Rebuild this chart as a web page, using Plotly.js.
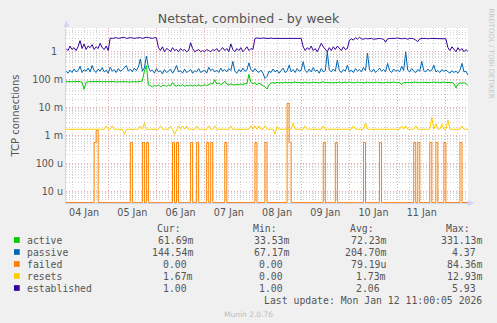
<!DOCTYPE html>
<html><head><meta charset="utf-8">
<script src="https://cdn.plot.ly/plotly-3.0.1.min.js"></script>
<style>html,body{margin:0;padding:0;background:#F0F0F0;}#chart{width:497px;height:323px;}</style>
</head><body><div id="chart"></div>
<script>
// time base: hourly samples
const START = '2026-01-04 03:00';
const END = '2026-01-12 11:00';
const STEP_MS = 3600000;

const active = [
0.085,0.083,0.086,0.084,0.085,0.083,0.086,0.085,0.08,0.045,
0.08,0.084,0.085,0.083,0.086,0.084,0.085,0.086,0.084,0.085,
0.083,0.085,0.086,0.084,0.085,0.083,0.084,0.085,0.083,0.084,
0.085,0.082,0.084,0.083,0.085,0.084,0.083,0.086,0.09,0.2,
0.32,0.065,0.06,0.055,0.062,0.058,0.065,0.056,0.06,0.063,
0.057,0.065,0.06,0.078,0.062,0.058,0.064,0.06,0.066,0.058,
0.062,0.06,0.064,0.058,0.063,0.06,0.065,0.059,0.062,0.066,
0.061,0.068,0.072,0.07,0.1,0.07,0.075,0.068,0.072,0.088,
0.07,0.065,0.07,0.066,0.064,0.068,0.066,0.07,0.066,0.072,
0.07,0.155,0.08,0.07,0.078,0.065,0.075,0.068,0.062,0.055,
0.046,0.065,0.075,0.078,0.074,0.08,0.076,0.079,0.075,0.082,
0.077,0.08,0.076,0.079,0.083,0.077,0.08,0.075,0.078,0.081,
0.076,0.079,0.077,0.082,0.078,0.08,0.076,0.079,0.084,0.078,
0.08,0.077,0.079,0.076,0.08,0.078,0.082,0.077,0.079,0.081,
0.078,0.083,0.08,0.077,0.079,0.082,0.078,0.08,0.076,0.079,
0.081,0.078,0.08,0.077,0.082,0.079,0.08,0.078,0.076,0.079,
0.081,0.078,0.08,0.082,0.079,0.077,0.08,0.066,0.078,0.081,
0.079,0.08,0.077,0.082,0.079,0.08,0.078,0.081,0.079,0.082,
0.08,0.078,0.08,0.083,0.079,0.081,0.078,0.08,0.082,0.079,
0.08,0.077,0.079,0.072,0.05,0.068,0.076,0.074,0.078,0.072,
0.062];

const passive = [
0.2,0.17,0.22,0.18,0.24,0.19,0.21,0.3,0.18,0.23,
0.2,0.26,0.19,0.32,0.21,0.18,0.24,0.2,0.27,0.19,
0.22,0.17,0.28,0.2,0.23,0.18,0.25,0.2,0.22,0.27,
0.32,0.2,0.24,0.19,0.26,0.21,0.28,0.55,0.2,0.26,
0.7,0.28,0.2,0.22,0.17,0.25,0.19,0.21,0.16,0.23,
0.18,0.2,0.24,0.17,0.22,0.32,0.19,0.21,0.17,0.24,
0.18,0.2,0.23,0.17,0.21,0.19,0.25,0.18,0.2,0.22,
0.17,0.28,0.21,0.24,0.19,0.22,0.18,0.26,0.2,0.23,
0.19,0.25,0.21,0.45,0.2,0.17,0.23,0.19,0.26,0.2,
0.22,0.4,0.23,0.19,0.25,0.2,0.18,0.22,0.17,0.11,
0.13,0.2,0.18,0.24,0.19,0.22,0.17,0.21,0.26,0.18,
0.2,0.33,0.19,0.23,0.18,0.25,0.2,0.22,0.44,0.21,
0.18,0.24,0.19,0.27,0.2,0.22,0.17,0.25,0.19,0.21,
1.0,0.22,0.19,0.24,0.2,0.5,0.21,0.18,0.23,0.2,
0.33,0.19,0.22,0.18,0.25,0.2,0.23,0.19,0.27,0.21,
0.88,0.22,0.19,0.24,0.18,0.21,0.26,0.2,0.23,0.19,
0.38,0.21,0.18,0.24,0.2,0.22,0.19,0.3,0.21,1.0,
0.22,0.19,0.25,0.2,0.18,0.23,0.2,0.45,0.21,0.19,
0.24,0.2,0.22,0.33,0.19,0.21,0.18,0.23,0.2,0.22,
0.19,0.17,0.21,0.18,0.2,0.17,0.22,0.38,0.19,0.2,
0.145];

const failed = [
0,0,0,0,0,0,0,0,0,0,
0,0,0,0,0.00056,0.0015,0,0,0,0,
0,0,0,0,0,0,0,0,0,0,
0,0,0.00056,0,0,0,0,0,0.00056,0,
0.00056,0,0,0,0,0,0,0,0,0,
0,0,0,0.00056,0,0.00056,0,0,0,0,
0,0,0.00056,0,0,0.00056,0,0,0,0,
0.00056,0,0.00056,0,0,0,0,0,0,0.00056,
0,0,0,0,0,0,0,0,0,0,
0,0,0,0,0.00056,0,0,0,0,0.00056,
0,0,0,0,0,0,0,0,0,0,
0.014,0.00056,0,0,0,0,0,0,0,0,
0,0,0,0,0,0,0,0,0.00056,0,
0,0,0,0,0.00056,0,0,0,0,0,
0,0,0,0,0,0,0,0,0.00056,0,
0,0,0,0,0,0,0.00056,0,0,0,
0,0,0,0,0,0,0,0,0,0,
0,0,0,0.00056,0,0.00056,0,0,0,0,
0,0.00056,0,0,0.00056,0,0,0,0.00056,0,
0,0,0,0,0,0,0.00056,0,0,0,
0];

const resets = [
0.00167,0.00167,0.00167,0.00167,0.00167,0.00167,0.00167,0.00167,0.00167,0.00167,
0.00167,0.00167,0.00167,0.00167,0.00167,0.00167,0.00167,0.00167,0.00167,0.00167,
0.0022,0.00167,0.00167,0.0022,0.00167,0.00167,0.00167,0.00167,0.00167,0.0011,
0.00167,0.00167,0.00167,0.00167,0.00167,0.00167,0.00167,0.0022,0.00167,0.0028,
0.00167,0.00167,0.00167,0.00167,0.00167,0.00167,0.00167,0.0022,0.00167,0.00167,
0.00167,0.00167,0.0022,0.00167,0.0011,0.00167,0.0022,0.00167,0.0022,0.00167,
0.0022,0.00167,0.00167,0.00167,0.00167,0.0022,0.00167,0.00167,0.00167,0.00167,
0.00167,0.0022,0.00167,0.00167,0.0022,0.00167,0.00167,0.00167,0.00167,0.00167,
0.00167,0.00167,0.0022,0.00167,0.00167,0.00167,0.00167,0.00167,0.00167,0.00167,
0.00167,0.00167,0.0022,0.00167,0.0022,0.00167,0.0022,0.00167,0.00167,0.0022,
0.00167,0.00167,0.00167,0.00167,0.0011,0.0021,0.00167,0.00167,0.00167,0.00167,
0.00167,0.00167,0.00167,0.0028,0.00167,0.00167,0.00167,0.00167,0.00167,0.0022,
0.00167,0.00167,0.00167,0.00167,0.00167,0.00167,0.00167,0.00167,0.0022,0.00167,
0.00167,0.00167,0.00167,0.00167,0.00167,0.00167,0.00167,0.00167,0.00167,0.00167,
0.00167,0.00167,0.00167,0.0022,0.00167,0.00167,0.00167,0.00167,0.00167,0.0028,
0.00167,0.00167,0.00167,0.00167,0.00167,0.00167,0.00167,0.00167,0.00167,0.00167,
0.00167,0.00167,0.00167,0.00167,0.00167,0.00167,0.00167,0.0022,0.00167,0.0022,
0.00167,0.00167,0.00167,0.00167,0.0022,0.00167,0.00167,0.00167,0.00167,0.00167,
0.00167,0.00167,0.0045,0.00167,0.0026,0.00167,0.00167,0.0026,0.00167,0.00167,
0.0036,0.00167,0.00167,0.00167,0.00167,0.00167,0.00167,0.0022,0.00167,0.00167,
0.00167];

const established = [
1.3,1.1,1.6,1.2,1.4,1.1,1.5,2.5,1.3,1.9,1.2,1.6,1.4,1.8,1.2,1.5,1.3,2.0,1.4,1.2,1.6,1.1,
3.1,3.0,3.1,3.2,3.0,3.1,3.1,3.3,3.0,3.1,3.2,3.1,3.0,3.1,3.1,3.2,3.0,3.1,3.3,3.2,3.1,3.0,3.2,3.1,
1.4,1.1,1.5,1.0,1.3,1.2,1.0,1.4,1.1,1.2,1.0,1.3,1.1,1.2,1.0,1.1,2.1,1.3,1.0,1.1,1.2,1.0,1.1,1.0,
1.2,1.1,1.0,1.2,1.1,1.3,1.0,1.2,1.4,1.1,1.3,1.0,1.9,1.2,1.0,1.3,1.1,1.4,1.0,1.2,1.5,1.1,1.3,1.2,
3.0,3.1,3.0,3.0,3.1,3.0,3.0,3.0,3.1,3.0,3.0,3.0,3.1,3.0,3.0,3.0,3.0,3.1,3.0,3.0,3.0,3.1,3.0,3.0,
1.5,1.1,1.4,1.2,1.6,1.1,1.3,1.0,1.4,2.0,1.5,1.2,1.0,1.4,1.1,1.5,1.2,1.6,1.3,1.1,1.5,1.2,1.3,
2.6,2.9,2.6,3.2,2.8,3.3,2.9,2.8,3.0,2.9,2.9,3.0,2.8,2.9,2.9,3.0,2.9,2.8,2.2,2.9,3.0,3.0,2.9,3.0,3.1,
3.0,2.9,3.0,3.0,2.8,3.0,3.0,2.9,2.6,2.3,2.9,3.0,3.0,3.0,2.9,3.0,3.0,3.0,3.0,3.0,2.9,3.0,3.0,2.9,
1.4,1.1,1.5,1.2,1.0,1.4,1.1,1.3,1.0,1.2,1.0];

const seriesNames = ['active','passive','failed','resets','established'];
const seriesColors = ['#00CC00','#0066B3','#FF8000','#FFCC00','#330099'];
const legendCur = ['61.69m','144.54m','0.00\u00a0','1.67m','1.00\u00a0'];
const legendMin = ['33.53m','67.17m','0.00\u00a0','0.00\u00a0','1.00\u00a0'];
const legendAvg = ['72.23m','204.70m','79.19u','1.73m','2.06\u00a0'];
const legendMax = ['331.13m','4.37\u00a0','84.36m','12.93m','5.93\u00a0'];
const legendHeaders = ['Cur:','Min:','Avg:','Max:'];
const yTickVals = [1e-5,1e-4,1e-3,1e-2,1e-1,1];
const yTickText = ['10 u','100 u','1 m','10 m','100 m','1\u00a0\u00a0'];
const titleText = 'Netstat, combined - by week';
const yTitle = 'TCP connections';
const lastUpdate = 'Last update: Mon Jan 12 11:00:05 2026';

// layout geometry (pixels)
const W = 497, H = 323, L = 66, R = 468, T = 28, B = 203;
const px = x => (x - L) / (R - L);
const py = y => (B - y) / (B - T);
const YMIN = -5.42, YMAX = 0.85;
const FLOOR = Math.pow(10, YMIN + 0.02);

const data = [active, passive, failed, resets, established].map((vals, k) => ({
  type: 'scatter', mode: 'lines', name: seriesNames[k],
  x0: START, dx: STEP_MS,
  y: k === 2 ? vals.map(v => v > 0 ? v : FLOOR) : vals,
  line: {color: seriesColors[k], width: 1, shape: k === 2 ? 'hv' : 'linear'},
  hoverinfo: 'skip', showlegend: false
}));

const minorY = [];
for (let e = -6; e <= 0; e++) for (let d = 2; d <= 9; d++) minorY.push(d * Math.pow(10, e));

const mono = {family: 'DejaVu Sans Mono', size: 9.8, color: '#555'};
const ann = [];
const shapes = [];
const rowsY = [240, 252, 264, 276, 288];
const colRight = [194, 290, 386.7, 482.7];
const colVals = [legendCur, legendMin, legendAvg, legendMax];
legendHeaders.forEach((h, j) => {
  ann.push({xref:'paper', yref:'paper', x: px(colRight[j] - 11.8), y: py(228), text: h,
    xanchor:'right', yanchor:'middle', showarrow:false, font: mono, borderpad: 0});
});
seriesNames.forEach((n, k) => {
  ann.push({xref:'paper', yref:'paper', x: px(26), y: py(rowsY[k]), text: n,
    xanchor:'left', yanchor:'middle', showarrow:false, font: mono, borderpad: 0});
  colVals.forEach((col, j) => {
    ann.push({xref:'paper', yref:'paper', x: px(colRight[j]), y: py(rowsY[k]), text: col[k],
      xanchor:'right', yanchor:'middle', showarrow:false, font: mono, borderpad: 0});
  });
  shapes.push({type:'rect', xref:'paper', yref:'paper', x0: px(14), x1: px(19.7),
    y0: py(rowsY[k] - 2.85), y1: py(rowsY[k] + 2.85), fillcolor: seriesColors[k], line:{width:0}});
});
ann.push({xref:'paper', yref:'paper', x: px(482.7), y: py(300), text: lastUpdate,
  xanchor:'right', yanchor:'middle', showarrow:false, font: mono, borderpad: 0});
ann.push({xref:'paper', yref:'paper', x: px(248), y: py(314), text: 'Munin 2.0.76',
  xanchor:'center', yanchor:'middle', showarrow:false, font:{family:'DejaVu Sans', size:7.5, color:'#bbbbbb'}, borderpad: 0});
ann.push({xref:'paper', yref:'paper', x: px(490.5), y: py(53), text: 'RRDTOOL / TOBI OETIKER', textangle: 90,
  xanchor:'center', yanchor:'middle', showarrow:false, font:{family:'DejaVu Sans', size:7, color:'#c4c4c4'}, borderpad: 0});
// axis arrows
shapes.push({type:'path', xref:'paper', yref:'paper', fillcolor:'#CFD6F8', line:{width:0},
  path: `M ${px(63.5)},${py(27)} L ${px(69.5)},${py(27)} L ${px(66.5)},${py(20.5)} Z`});
shapes.push({type:'path', xref:'paper', yref:'paper', fillcolor:'#CFD6F8', line:{width:0},
  path: `M ${px(468)},${py(200)} L ${px(468)},${py(206)} L ${px(474.5)},${py(203)} Z`});

const minorGrid = {showgrid: true, gridcolor: '#D2D2D2', griddash: '1px,2px', gridwidth: 1};
const majorGrid = {showgrid: true, gridcolor: '#F0A8A8', griddash: '1px,2px', gridwidth: 1};

const layout = {
  width: W, height: H, autosize: false,
  margin: {l: L, r: W - R, t: T, b: H - B, pad: 0},
  paper_bgcolor: '#F0F0F0', plot_bgcolor: '#FFFFFF',
  font: {family: 'DejaVu Sans', color: '#555'},
  title: {text: titleText, font: {family: 'DejaVu Sans', size: 12.6, color: '#555'},
    xref: 'container', x: 0.5, xanchor: 'center', yref: 'container', y: 1 - 19/H, yanchor: 'middle'},
  xaxis: Object.assign({type: 'date', range: [START, END], tick0: '2026-01-04', dtick: 86400000,
    tickformat: '%d %b', ticklabelmode: 'period', ticks: '',
    tickfont: {family: 'DejaVu Sans', size: 9.6, color: '#555'},
    minor: Object.assign({dtick: 21600000, tick0: '2026-01-04'}, minorGrid),
    showline: true, linecolor: '#CFD6F8', linewidth: 1, zeroline: false, fixedrange: true}, majorGrid),
  yaxis: Object.assign({type: 'log', range: [YMIN, YMAX], tickmode: 'array', tickvals: yTickVals, ticktext: yTickText,
    ticks: '', tickfont: {family: 'DejaVu Sans', size: 9.6, color: '#555'},
    minor: Object.assign({tickmode: 'array', tickvals: minorY}, minorGrid),
    showline: true, linecolor: '#CFD6F8', linewidth: 1, zeroline: false, fixedrange: true,
    title: {text: yTitle, font: {family: 'DejaVu Sans', size: 10, color: '#555'}, standoff: 10}}, majorGrid),
  annotations: ann, shapes: shapes, showlegend: false
};

Plotly.newPlot('chart', data, layout, {staticPlot: true, displayModeBar: false});
</script></body></html>
